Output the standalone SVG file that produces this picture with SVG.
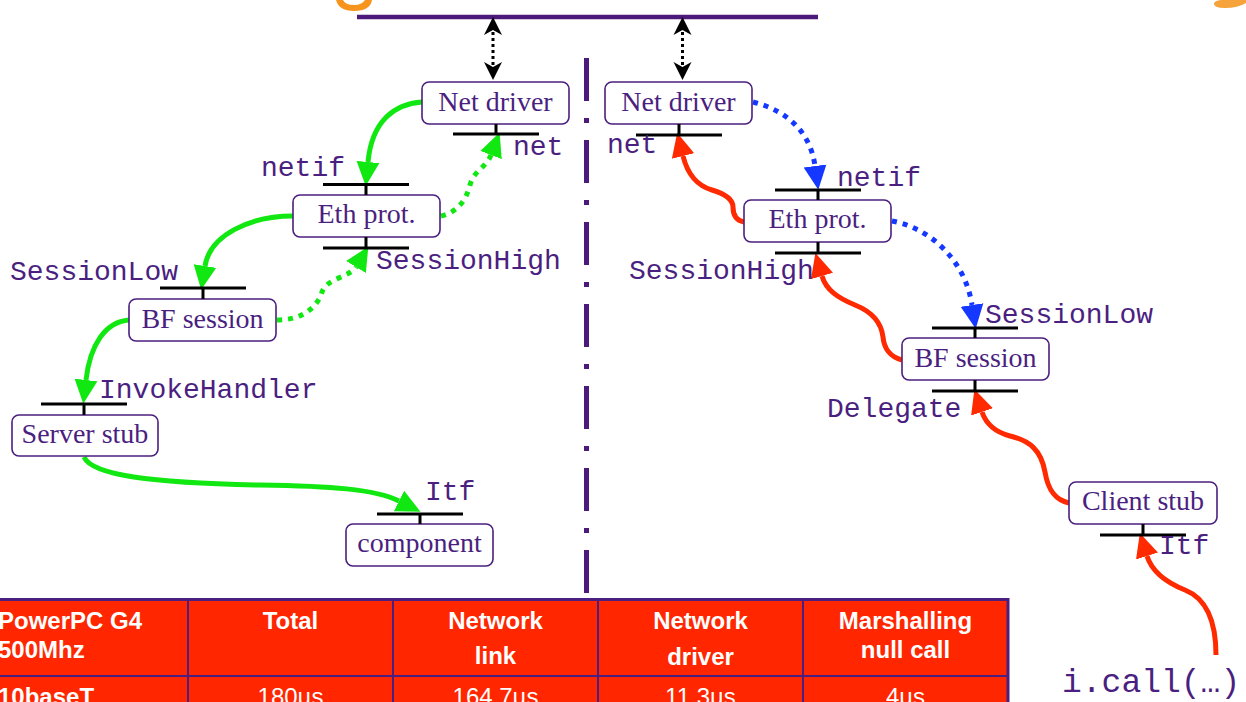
<svg xmlns="http://www.w3.org/2000/svg" width="1246" height="702" viewBox="0 0 1246 702">
<style>
.box{fill:#fff;stroke:#4b1f7f;stroke-width:1.6}
.nt{font-family:"Liberation Serif",serif;font-size:28px;fill:#4b1f7f;text-anchor:middle}
.lb{font-family:"Liberation Mono",monospace;font-size:28px;fill:#4b1f7f}
.port{stroke:#000;stroke-width:3;fill:none}
.g{fill:none;stroke:#11e811;stroke-width:5}
.gd{fill:none;stroke:#11e811;stroke-width:5;stroke-dasharray:5 6}
.bd{fill:none;stroke:#1438ff;stroke-width:5;stroke-dasharray:5 6}
.r{fill:none;stroke:#ff2a00;stroke-width:5}
.kd{fill:none;stroke:#000;stroke-width:3;stroke-dasharray:3 3}
.th{font-family:"Liberation Sans",Arial,sans-serif;font-size:24px;font-weight:bold;fill:#fff}
.td{font-family:"Liberation Sans",Arial,sans-serif;font-size:24px;fill:#fff;text-anchor:middle}
.tl{stroke:#4b1f7f;stroke-width:2}
</style>
<defs>
<marker id="ag" markerUnits="userSpaceOnUse" markerWidth="24" markerHeight="24" refX="0" refY="11" orient="auto" viewBox="0 0 23 22"><path d="M0,0 L23,11 L0,22 Z" fill="#11e811"/></marker>
<marker id="ab" markerUnits="userSpaceOnUse" markerWidth="24" markerHeight="24" refX="0" refY="11" orient="auto" viewBox="0 0 23 22"><path d="M0,0 L23,11 L0,22 Z" fill="#1438ff"/></marker>
<marker id="ar" markerUnits="userSpaceOnUse" markerWidth="24" markerHeight="24" refX="0" refY="11" orient="auto" viewBox="0 0 23 22"><path d="M0,0 L23,11 L0,22 Z" fill="#ff2a00"/></marker>
<path id="kh" d="M0,0 L9,18 L0,13 L-9,18 Z" fill="#000"/>
</defs>

<!-- cut-off title fragments -->
<path d="M336,0 Q339,11 354,11 Q370,11 372,0 L365,0 Q362,5 354,5 Q345,5 343,0 Z" fill="#f7941d"/>
<path d="M1246,0 L1246,3 Q1238,8 1225,8 Q1213,8 1214,3 Q1216,0 1222,0 Z" fill="#f5a33a"/>

<!-- bus and separator -->
<line x1="357" y1="17" x2="818" y2="17" stroke="#4b1a7a" stroke-width="4.5"/>
<line x1="586.5" y1="58" x2="586.5" y2="596" stroke="#4b1a7a" stroke-width="5" stroke-dasharray="43 17 5 17"/>

<g id="connectors">
<!-- black double arrows -->
<line class="kd" x1="493" y1="32" x2="493" y2="66"/>
<use href="#kh" transform="translate(493,17)"/>
<use href="#kh" transform="translate(493,80) rotate(180)"/>
<line class="kd" x1="682.5" y1="32" x2="682.5" y2="66"/>
<use href="#kh" transform="translate(682.5,17)"/>
<use href="#kh" transform="translate(682.5,80) rotate(180)"/>
<!-- green -->
<path class="g" d="M422,102 C395,104 372,120 368,162" marker-end="url(#ag)"/>
<path class="g" d="M293,216 C250,216 210,235 205,266" marker-end="url(#ag)"/>
<path class="g" d="M129,320 C105,322 90,345 86,380" marker-end="url(#ag)"/>
<path class="g" d="M84,457 C92,475 150,483 260,485 C330,486 375,489 399,501" marker-end="url(#ag)"/>
<path class="gd" d="M277,320 C305,320 318,305 322,292 C327,278 350,277 356,267" marker-end="url(#ag)"/>
<path class="gd" d="M441,216 C458,212 466,200 470,185 C474,170 486,168 491,155" marker-end="url(#ag)"/>
<!-- blue -->
<path class="bd" d="M753,102 C785,110 810,130 815,166" marker-end="url(#ab)"/>
<path class="bd" d="M892,221 C930,228 965,260 972,305" marker-end="url(#ab)"/>
<!-- red -->
<path class="r" d="M744,222 C734,220 733,212 733,207 C733,198 722,193 712,190 C698,186 688,176 683,156" marker-end="url(#ar)"/>
<path class="r" d="M902,360 C890,357 884,348 883,337 C881,320 870,311 855,305 C838,298 826,290 822,276" marker-end="url(#ar)"/>
<path class="r" d="M1069,503 C1055,500 1048,490 1045,472 C1041,450 1030,441 1010,436 C995,432 986,424 982,412" marker-end="url(#ar)"/>
<path class="r" d="M1216,655 C1216,620 1205,598 1185,590 C1165,582 1152,572 1147,556" marker-end="url(#ar)"/>
</g>

<g id="netdriver-left">
<rect class="box" x="422" y="82" width="147" height="42" rx="7"/>
<text class="nt" x="495.5" y="111">Net driver</text>
<path class="port" d="M496,124 V134 M453,134 H539"/>
<text class="lb" x="513" y="155">net</text>
</g>
<g id="eth-left">
<rect class="box" x="293" y="195" width="147" height="42" rx="7"/>
<text class="nt" x="366.5" y="223">Eth prot.</text>
<path class="port" d="M366,184.5 V195 M323,184.5 H409 M366,237 V248 M323,248 H409"/>
<text class="lb" x="261" y="176">netif</text>
<text class="lb" x="376" y="269">SessionHigh</text>
</g>
<g id="bf-left">
<rect class="box" x="129" y="299" width="147" height="42" rx="7"/>
<text class="nt" x="202.5" y="328">BF session</text>
<path class="port" d="M203,288 V299 M160,288 H246"/>
<text class="lb" x="10" y="280">SessionLow</text>
</g>
<g id="serverstub">
<rect class="box" x="12" y="415" width="146" height="41" rx="7"/>
<text class="nt" x="85" y="443">Server stub</text>
<path class="port" d="M84,404 V415 M41,404 H127"/>
<text class="lb" x="99" y="398">InvokeHandler</text>
</g>
<g id="component">
<rect class="box" x="346" y="524" width="147" height="42" rx="7"/>
<text class="nt" x="419.5" y="552">component</text>
<path class="port" d="M420,514 V524 M377,514 H463"/>
<text class="lb" x="425" y="500">Itf</text>
</g>

<g id="netdriver-right">
<rect class="box" x="605" y="82" width="147" height="42" rx="7"/>
<text class="nt" x="678.5" y="111">Net driver</text>
<path class="port" d="M679,124 V135 M636,135 H722"/>
<text class="lb" x="607" y="153">net</text>
</g>
<g id="eth-right">
<rect class="box" x="744" y="200" width="147" height="42" rx="7"/>
<text class="nt" x="817.5" y="228">Eth prot.</text>
<path class="port" d="M818,190 V200 M775,190 H861 M818,242 V253 M775,253 H861"/>
<text class="lb" x="837" y="186">netif</text>
<text class="lb" x="629" y="279">SessionHigh</text>
</g>
<g id="bf-right">
<rect class="box" x="902" y="338" width="147" height="42" rx="7"/>
<text class="nt" x="975.5" y="367">BF session</text>
<path class="port" d="M975,328 V338 M932,328 H1018 M975,380 V391 M932,391 H1018"/>
<text class="lb" x="985" y="323">SessionLow</text>
<text class="lb" x="827" y="417">Delegate</text>
</g>
<g id="clientstub">
<rect class="box" x="1069" y="482" width="148" height="42" rx="7"/>
<text class="nt" x="1143" y="510">Client stub</text>
<path class="port" d="M1143,524 V535 M1100,535 H1186"/>
<text class="lb" x="1159" y="554">Itf</text>
</g>
<g id="call">
<text class="lb" x="1062" y="692" style="font-size:33px">i.call(…)</text>
</g>

<g id="table">
<rect x="-20" y="600" width="1028" height="110" fill="#ff2600"/>
<line x1="0" y1="599.5" x2="1009" y2="599.5" stroke="#4b1f7f" stroke-width="3"/>
<line class="tl" x1="0" y1="676" x2="1008" y2="676"/>
<line class="tl" x1="188" y1="600" x2="188" y2="702"/>
<line class="tl" x1="393" y1="600" x2="393" y2="702"/>
<line class="tl" x1="598" y1="600" x2="598" y2="702"/>
<line class="tl" x1="803" y1="600" x2="803" y2="702"/>
<line x1="1008" y1="598" x2="1008" y2="702" stroke="#4b1f7f" stroke-width="3"/>
<text class="th" x="-2" y="629">PowerPC G4</text>
<text class="th" x="-2" y="658">500Mhz</text>
<text class="th" x="290.5" y="629" text-anchor="middle">Total</text>
<text class="th" x="495.5" y="629" text-anchor="middle">Network</text>
<text class="th" x="495.5" y="664" text-anchor="middle">link</text>
<text class="th" x="700.5" y="629" text-anchor="middle">Network</text>
<text class="th" x="700.5" y="665" text-anchor="middle">driver</text>
<text class="th" x="905.5" y="629" text-anchor="middle">Marshalling</text>
<text class="th" x="905.5" y="658" text-anchor="middle">null call</text>
<text class="th" x="-2" y="705">10baseT</text>
<text class="td" x="290.5" y="705">180µs</text>
<text class="td" x="495.5" y="705">164.7µs</text>
<text class="td" x="700.5" y="705">11.3µs</text>
<text class="td" x="905.5" y="705">4µs</text>
</g>
</svg>
